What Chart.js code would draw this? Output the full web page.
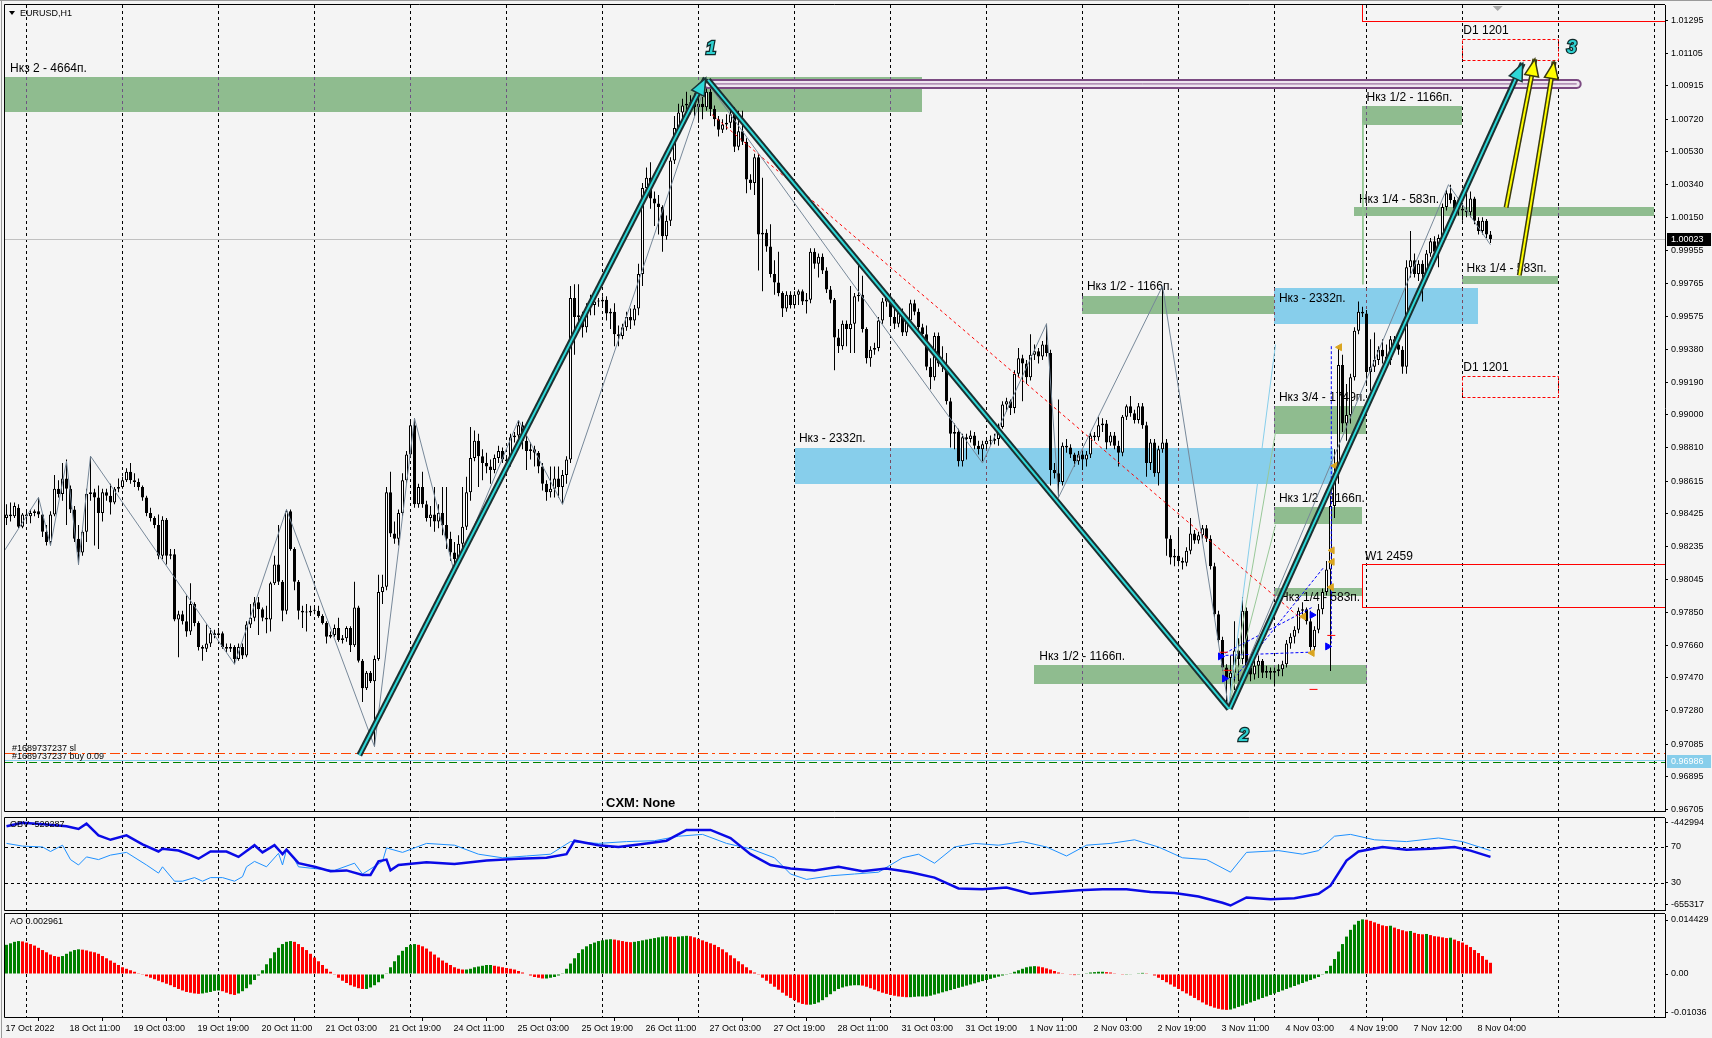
<!DOCTYPE html>
<html><head><meta charset="utf-8"><title>EURUSD,H1</title>
<script src="https://cdn.jsdelivr.net/npm/chart.js@4.4.1/dist/chart.umd.min.js"></script>
<style>
html,body{margin:0;padding:0;background:#F4F4F4;overflow:hidden}
#wrap{position:relative;width:1712px;height:1038px;background:#F4F4F4}
#wrap canvas{position:absolute;left:0}
</style></head><body>
<div id="wrap">
<canvas id="cMain" width="1712" height="816" style="top:0px"></canvas>
<canvas id="cObv" width="1712" height="96" style="top:816px"></canvas>
<canvas id="cAo" width="1712" height="126" style="top:912px"></canvas>
</div>
<script>
// ---------------- DATA ----------------
const opens = [
.9840,.9842,.9841,.9846,.9835,.9842,.9841,.9843,.9844,.9842,
.9832,.9826,.9842,.9857,.9854,.9863,.9857,.9845,.9828,.9820,
.9832,.9854,.9855,.9852,.9843,.9855,.9853,.9849,.9857,.9858,
.9862,.9867,.9862,.9861,.9858,.9852,.9843,.9840,.9836,.9818,
.9839,.9818,.9819,.9781,.9784,.9780,.9774,.9790,.9779,.9765,
.9764,.9767,.9773,.9772,.9773,.9765,.9764,.9765,.9758,.9765,
.9760,.9778,.9782,.9791,.9787,.9782,.9781,.9802,.9813,.9803,
.9786,.9844,.9822,.9803,.9786,.9785,.9785,.9786,.9786,.9783,
.9779,.9771,.9772,.9776,.9769,.9770,.9776,.9766,.9788,.9757,
.9741,.9750,.9745,.9758,.9797,.9800,.9855,.9831,.9828,.9843,
.9862,.9877,.9894,.9848,.9858,.9848,.9840,.9842,.9838,.9843,
.9836,.9828,.9820,.9816,.9825,.9835,.9855,.9875,.9885,.9876,
.9872,.9870,.9868,.9875,.9879,.9874,.9873,.9887,.9888,.9894,
.9885,.9879,.9880,.9878,.9870,.9860,.9855,.9857,.9863,.9858,
.9865,.9874,.9968,.9957,.9958,.9951,.9963,.9964,.9966,.9966,
.9967,.9959,.9960,.9947,.9946,.9951,.9957,.9955,.9962,.9982,
1.0032,1.0038,1.0026,1.0023,1.0021,1.0004,1.0013,1.0048,1.0067,1.0076,
1.0080,1.0081,1.0082,1.0079,1.0081,1.0079,1.0088,1.0078,1.0072,1.0066,
1.0069,1.0070,1.0075,1.0056,1.0065,1.0059,1.0037,1.0035,1.0050,1.0005,
1.0006,.9998,.9982,.9977,.9971,.9962,.9970,.9964,.9970,.9972,
.9966,.9967,.9995,.9988,.9992,.9984,.9973,.9967,.9945,.9940,
.9953,.9950,.9953,.9969,.9970,.9950,.9933,.9938,.9939,.9955,
.9966,.9968,.9957,.9953,.9960,.9948,.9955,.9965,.9960,.9951,
.9947,.9928,.9922,.9946,.9930,.9928,.9908,.9889,.9890,.9873,
.9887,.9886,.9888,.9882,.9880,.9883,.9885,.9885,.9886,.9893,
.9906,.9908,.9904,.9924,.9933,.9930,.9922,.9935,.9937,.9934,
.9941,.9936,.9868,.9866,.9861,.9882,.9881,.9877,.9873,.9877,
.9874,.9877,.9888,.9887,.9894,.9895,.9884,.9888,.9882,.9878,
.9899,.9905,.9901,.9897,.9905,.9894,.9872,.9884,.9866,.9880,
.9884,.9828,.9817,.9818,.9815,.9814,.9821,.9831,.9827,.9830,
.9834,.9828,.9812,.9784,.9769,.9753,.9747,.9750,.9763,.9758,
.9786,.9753,.9749,.9754,.9757,.9750,.9751,.9750,.9751,.9752,
.9755,.9767,.9771,.9775,.9786,.9787,.9780,.9765,.9775,.9787,
.9797,.9810,.9847,.9866,.9929,.9895,.9900,.9922,.9949,.9960,
.9959,.9925,.9928,.9932,.9938,.9934,.9932,.9944,.9941,.9938,
.9928,.9986,.9990,.9982,.9988,.9982,.9994,1.0001,.9995,1.0003,
1.0021,1.0029,1.0025,1.0020,1.0020,1.0019,1.0018,1.0026,1.0013,1.0007,
1.0013,1.0005];
const highs = [
.9848,.9849,.9849,.9848,.9843,.9844,.9845,.9845,.9852,.9843,
.9836,.9844,.9865,.9862,.9872,.9874,.9859,.9847,.9836,.9833,
.9857,.9876,.9857,.9859,.9857,.9857,.9860,.9858,.9863,.9864,
.9869,.9872,.9866,.9863,.9859,.9853,.9846,.9841,.9842,.9841,
.9840,.9822,.9822,.9786,.9786,.9795,.9802,.9791,.9780,.9766,
.9778,.9776,.9775,.9776,.9774,.9767,.9767,.9766,.9767,.9767,
.9780,.9790,.9794,.9794,.9788,.9789,.9803,.9818,.9836,.9804,
.9845,.9845,.9823,.9804,.9789,.9790,.9789,.9788,.9789,.9784,
.9780,.9774,.9778,.9782,.9772,.9777,.9777,.9803,.9789,.9758,
.9751,.9751,.9760,.9807,.9807,.9858,.9867,.9838,.9845,.9866,
.9879,.9896,.9898,.9860,.9867,.9850,.9847,.9858,.9848,.9858,
.9858,.9832,.9826,.9830,.9858,.9864,.9893,.9891,.9889,.9880,
.9878,.9874,.9877,.9882,.9881,.9876,.9889,.9890,.9897,.9896,
.9888,.9884,.9882,.9879,.9872,.9862,.9870,.9870,.9870,.9868,
.9876,.9975,.9976,.9976,.9960,.9965,.9970,.9968,.9968,.9969,
.9969,.9962,.9965,.9952,.9953,.9960,.9962,.9964,.9988,1.0035,
1.0044,1.0047,1.0030,1.0028,1.0022,1.0016,1.0050,1.0074,1.0081,1.0084,
1.0088,1.0086,1.0087,1.0087,1.0085,1.0094,1.0090,1.0080,1.0074,1.0072,
1.0075,1.0078,1.0079,1.0077,1.0077,1.0061,1.0040,1.0052,1.0052,1.0038,
1.0008,1.0011,.9990,.9995,.9972,.9972,.9972,.9972,.9973,.9973,
.9971,.9997,.9997,.9994,.9994,.9986,.9975,.9968,.9950,.9955,
.9955,.9975,.9971,.9989,.9981,.9951,.9940,.9942,.9957,.9968,
.9970,.9970,.9967,.9962,.9962,.9957,.9967,.9967,.9962,.9953,
.9952,.9933,.9948,.9948,.9940,.9936,.9910,.9895,.9892,.9889,
.9889,.9891,.9890,.9885,.9885,.9887,.9888,.9889,.9895,.9908,
.9910,.9909,.9926,.9939,.9935,.9932,.9947,.9941,.9939,.9943,
.9953,.9938,.9872,.9909,.9884,.9886,.9883,.9878,.9879,.9879,
.9879,.9890,.9890,.9899,.9898,.9897,.9890,.9890,.9885,.9900,
.9906,.9911,.9903,.9907,.9907,.9896,.9886,.9886,.9882,.9975,
.9886,.9830,.9822,.9833,.9817,.9823,.9840,.9833,.9832,.9836,
.9836,.9830,.9814,.9786,.9771,.9755,.9760,.9780,.9770,.9794,
.9788,.9756,.9757,.9760,.9758,.9754,.9753,.9753,.9755,.9757,
.9769,.9773,.9777,.9788,.9791,.9788,.9786,.9777,.9790,.9799,
.9815,.9853,.9880,.9940,.9935,.9918,.9924,.9951,.9966,.9963,
.9961,.9944,.9948,.9940,.9944,.9941,.9946,.9946,.9944,.9940,
.9990,1.0007,.9994,.9990,.9990,.9996,1.0003,1.0004,1.0005,1.0023,
1.0031,1.0034,1.0027,1.0023,1.0022,1.0029,1.0030,1.0027,1.0015,1.0015,
1.0014,1.0007];
const lows = [
.9836,.9838,.9840,.9834,.9834,.9838,.9837,.9841,.9840,.9829,
.9824,.9824,.9841,.9852,.9850,.9836,.9843,.9826,.9813,.9818,
.9826,.9850,.9824,.9822,.9838,.9850,.9842,.9848,.9855,.9857,
.9861,.9860,.9858,.9856,.9850,.9841,.9838,.9834,.9816,.9816,
.9813,.9816,.9780,.9759,.9778,.9771,.9772,.9777,.9763,.9757,
.9762,.9765,.9770,.9770,.9764,.9762,.9762,.9755,.9757,.9758,
.9759,.9776,.9780,.9772,.9780,.9773,.9774,.9801,.9801,.9780,
.9784,.9821,.9798,.9781,.9776,.9774,.9783,.9784,.9782,.9778,
.9767,.9770,.9771,.9768,.9767,.9768,.9762,.9765,.9756,.9733,
.9740,.9744,.9707,.9757,.9790,.9798,.9829,.9825,.9824,.9841,
.9860,.9875,.9846,.9846,.9846,.9838,.9835,.9832,.9834,.9830,
.9822,.9815,.9808,.9812,.9822,.9833,.9850,.9873,.9858,.9862,
.9866,.9860,.9866,.9872,.9872,.9870,.9870,.9884,.9884,.9880,
.9868,.9874,.9870,.9866,.9856,.9850,.9852,.9852,.9852,.9848,
.9860,.9872,.9935,.9950,.9945,.9948,.9958,.9958,.9963,.9964,
.9955,.9950,.9940,.9940,.9944,.9949,.9950,.9952,.9958,.9975,
1.0028,1.0020,1.0010,1.0005,.9995,1.0002,1.0010,1.0046,1.0064,1.0072,
1.0076,1.0075,1.0074,1.0070,1.0072,1.0077,1.0074,1.0068,1.0062,1.0064,
1.0066,1.0067,1.0053,1.0054,1.0057,1.0029,1.0031,1.0028,.9984,.9972,
.9995,.9980,.9970,.9969,.9957,.9960,.9962,.9962,.9964,.9964,
.9959,.9965,.9985,.9980,.9982,.9971,.9965,.9926,.9936,.9938,
.9940,.9936,.9936,.9966,.9948,.9930,.9928,.9935,.9937,.9953,
.9963,.9953,.9950,.9951,.9946,.9946,.9953,.9958,.9949,.9945,
.9926,.9915,.9920,.9928,.9925,.9906,.9881,.9880,.9870,.9870,
.9874,.9884,.9880,.9877,.9873,.9880,.9882,.9883,.9882,.9892,
.9902,.9900,.9901,.9922,.9908,.9918,.9920,.9932,.9930,.9932,
.9934,.9859,.9863,.9852,.9859,.9878,.9875,.9870,.9871,.9868,
.9870,.9875,.9885,.9885,.9890,.9880,.9882,.9880,.9870,.9876,
.9897,.9899,.9895,.9895,.9892,.9864,.9868,.9864,.9859,.9878,
.9818,.9813,.9812,.9812,.9810,.9812,.9819,.9825,.9825,.9828,
.9826,.9810,.9782,.9767,.9751,.9732,.9730,.9740,.9745,.9755,
.9750,.9745,.9746,.9747,.9747,.9747,.9746,.9742,.9748,.9748,
.9753,.9764,.9767,.9773,.9782,.9778,.9763,.9763,.9773,.9784,
.9795,.9751,.9840,.9860,.9890,.9885,.9895,.9920,.9947,.9957,
.9918,.9914,.9925,.9929,.9930,.9929,.9929,.9938,.9935,.9924,
.9924,.9980,.9980,.9978,.9966,.9980,.9992,.9990,.9986,.9998,
1.0019,1.0023,1.0018,1.0016,1.0013,1.0015,1.0015,1.0011,1.0005,1.0005,
1.0003,1.0000];
const closes = [
.9842,.9841,.9847,.9835,.9842,.9841,.9843,.9844,.9842,.9832,
.9826,.9842,.9857,.9854,.9863,.9857,.9845,.9828,.9820,.9832,
.9854,.9855,.9852,.9843,.9855,.9853,.9849,.9857,.9858,.9862,
.9867,.9862,.9861,.9858,.9852,.9843,.9840,.9836,.9818,.9839,
.9818,.9819,.9781,.9784,.9780,.9774,.9790,.9779,.9765,.9764,
.9767,.9773,.9772,.9773,.9765,.9764,.9765,.9758,.9765,.9760,
.9778,.9782,.9791,.9787,.9782,.9781,.9802,.9813,.9803,.9786,
.9844,.9822,.9803,.9786,.9785,.9785,.9786,.9786,.9783,.9779,
.9771,.9772,.9776,.9769,.9770,.9776,.9766,.9788,.9757,.9741,
.9750,.9745,.9758,.9797,.9800,.9855,.9831,.9828,.9843,.9862,
.9877,.9894,.9848,.9858,.9848,.9840,.9842,.9838,.9843,.9836,
.9828,.9820,.9816,.9825,.9835,.9855,.9875,.9885,.9876,.9872,
.9870,.9868,.9875,.9879,.9874,.9873,.9887,.9888,.9894,.9885,
.9879,.9880,.9878,.9870,.9860,.9855,.9857,.9863,.9858,.9865,
.9874,.9968,.9957,.9958,.9951,.9963,.9964,.9966,.9966,.9967,
.9959,.9960,.9947,.9946,.9951,.9957,.9955,.9962,.9982,1.0032,
1.0038,1.0026,1.0023,1.0021,1.0004,1.0013,1.0048,1.0067,1.0076,1.0080,
1.0081,1.0082,1.0079,1.0081,1.0079,1.0088,1.0078,1.0072,1.0066,1.0069,
1.0070,1.0075,1.0056,1.0065,1.0059,1.0037,1.0035,1.0050,1.0005,1.0006,
.9998,.9982,.9977,.9971,.9962,.9970,.9964,.9970,.9972,.9966,
.9967,.9995,.9988,.9992,.9984,.9973,.9967,.9945,.9940,.9953,
.9950,.9953,.9969,.9970,.9950,.9933,.9938,.9939,.9955,.9966,
.9968,.9957,.9953,.9960,.9948,.9955,.9965,.9960,.9951,.9947,
.9928,.9922,.9946,.9930,.9928,.9908,.9889,.9890,.9873,.9887,
.9886,.9888,.9882,.9880,.9883,.9885,.9885,.9886,.9893,.9906,
.9908,.9904,.9924,.9933,.9930,.9922,.9935,.9937,.9934,.9941,
.9936,.9868,.9866,.9861,.9882,.9881,.9877,.9873,.9877,.9874,
.9877,.9888,.9887,.9894,.9895,.9884,.9888,.9882,.9878,.9899,
.9905,.9901,.9897,.9905,.9894,.9872,.9884,.9866,.9880,.9884,
.9828,.9817,.9818,.9815,.9814,.9821,.9831,.9827,.9830,.9834,
.9828,.9812,.9784,.9769,.9753,.9747,.9750,.9763,.9758,.9786,
.9753,.9749,.9754,.9757,.9750,.9751,.9750,.9751,.9752,.9755,
.9767,.9771,.9775,.9786,.9787,.9780,.9765,.9775,.9787,.9797,
.9810,.9847,.9866,.9929,.9895,.9900,.9922,.9949,.9960,.9959,
.9925,.9928,.9932,.9938,.9934,.9932,.9944,.9941,.9938,.9928,
.9986,.9990,.9982,.9988,.9982,.9994,1.0001,.9995,1.0003,1.0021,
1.0029,1.0025,1.0020,1.0020,1.0019,1.0018,1.0026,1.0013,1.0007,1.0013,
1.0005,1.00023];

// Awesome Oscillator, in units of 0.0001
const aoVals = [
78,82,86,88,87,84,80,76,70,64,
58,52,48,46,48,54,60,64,66,65,
63,60,58,54,48,42,36,30,24,18,
14,10,6,2,-2,-6,-10,-14,-18,-22,
-26,-30,-35,-40,-44,-48,-50,-52,-53,-52,
-50,-48,-45,-44,-46,-50,-54,-56,-52,-46,
-38,-28,-16,-4,10,26,42,58,70,80,
86,88,86,80,72,64,54,44,34,24,
14,6,-2,-10,-18,-24,-30,-34,-38,-40,
-40,-36,-30,-22,-12,2,18,34,50,62,
72,78,80,78,74,68,60,52,44,36,
30,24,18,14,12,12,14,18,20,22,
24,24,22,20,18,16,14,12,8,4,
0,-4,-8,-10,-12,-12,-10,-8,-4,2,
14,28,42,56,66,74,80,84,88,90,
92,93,92,90,88,86,85,86,88,90,
92,94,96,98,100,101,100,99,100,101,
102,101,98,94,90,86,82,78,72,66,
58,50,42,34,26,18,10,4,-2,-10,
-18,-26,-34,-42,-50,-58,-64,-70,-76,-80,
-82,-82,-80,-76,-70,-62,-54,-46,-40,-36,
-33,-31,-30,-30,-31,-34,-38,-42,-46,-50,
-53,-56,-58,-60,-61,-62,-62,-61,-60,-60,
-60,-58,-55,-52,-49,-46,-43,-40,-37,-34,
-31,-28,-25,-22,-19,-16,-13,-10,-7,-4,
-2,2,6,10,14,18,20,21,20,18,
15,12,8,4,2,0,-2,-3,-2,0,
2,4,5,6,6,5,4,2,0,-2,
-2,-1,0,2,3,2,0,-4,-10,-16,
-22,-28,-34,-40,-46,-52,-58,-64,-70,-76,
-82,-86,-90,-93,-95,-96,-95,-92,-88,-84,
-80,-76,-72,-68,-64,-60,-56,-52,-48,-44,
-40,-36,-32,-28,-24,-20,-16,-12,-8,-2,
8,22,40,60,80,100,118,132,142,146,
145,142,138,134,130,128,129,124,120,117,
114,115,110,107,106,107,104,101,100,98,
96,97,92,88,84,78,72,64,56,48,
38,30];

// OBV window lines (bar index, window value)
const obvThickX = [0,4,10,15,18,20,23,26,30,34,38,39,43,46,48,51,55,58,62,64,67,69,70,73,77,81,85,89,91,93,95,96,98,105,112,120,128,135,140,142,148,153,160,165,170,176,181,186,191,196,202,208,214,220,226,232,238,244,250,256,262,268,274,280,286,292,298,304,306,310,316,322,328,331,335,338,344,350,356,362,366,371];
const obvThickV = [93,97,95,93,90,96,83,78,83,73,65,68,66,61,57,65,65,59,72,64,72,62,67,52,48,43,44,39,39,54,56,44,50,53,51,55,57,58,62,77,72,70,74,77,89,89,80,62,50,46,44,48,43,46,42,36,24,23,25,18,20,22,23,23,20,19,15,8,5,14,12,13,18,27,55,65,70,67,68,70,66,59];
const obvThinX = [0,4,9,11,14,16,18,20,23,26,30,35,38,39,42,44,47,49,51,54,57,59,60,62,65,68,69,70,72,73,77,82,87,89,94,95,99,105,112,118,124,130,136,141,148,155,162,168,174,180,186,192,196,200,206,212,218,224,228,232,237,242,248,254,260,265,270,276,282,288,294,300,306,310,318,324,328,332,336,342,350,358,364,371];
const obvThinV = [74,71,70,65,72,56,50,59,56,61,64,50,41,48,32,32,36,32,36,36,32,37,48,54,48,63,50,67,56,48,46,44,52,40,54,69,64,74,72,62,58,60,62,76,74,76,77,82,84,74,68,58,40,34,38,40,42,58,62,52,70,74,72,76,70,60,72,74,78,70,58,56,42,64,66,62,66,82,84,78,76,80,76,66];

// axes
const priceTicks = [1.01295,1.01105,1.00915,1.00720,1.00530,1.00340,1.00150,0.99955,0.99765,0.99575,0.99380,0.99190,0.99000,0.98810,0.98615,0.98425,0.98235,0.98045,0.97850,0.97660,0.97470,0.97280,0.97085,0.96895,0.96705];
const timeLabels = ["17 Oct 2022","18 Oct 11:00","19 Oct 03:00","19 Oct 19:00","20 Oct 11:00","21 Oct 03:00","21 Oct 19:00","24 Oct 11:00","25 Oct 03:00","25 Oct 19:00","26 Oct 11:00","27 Oct 03:00","27 Oct 19:00","28 Oct 11:00","31 Oct 03:00","31 Oct 19:00","1 Nov 11:00","2 Nov 03:00","2 Nov 19:00","3 Nov 11:00","4 Nov 03:00","4 Nov 19:00","7 Nov 12:00","8 Nov 04:00"];
const timeTickBars = [0,16,32,48,64,80,96,112,128,144,160,176,192,208,224,240,256,272,288,304,320,336,352,368];
const dayStartBars = [5,29,53,77,101,125,149,173,197,221,245,269,293,317,340,364,388,412];
const obvTickVals = [96.7,70,30,5.6];
const obvTickLabels = ["-442994","70","30","-655317"];
const obvLevels = [70,30];
const aoTickVals = [0.014429,0,-0.01036];
const aoTickLabels = ["0.014429","0.00","-0.01036"];
const lastPrice = 1.00023;
const buyPrice = 0.96986;

// drawn objects (bar index, price)
const zigX = [-3,8,11,15,18,21,57,70,92,102,112,128,139,175,244,260,263,289,305.5,360.5,371];
const zigY = [.9812,.9852,.9824,.9873,.9813,.9876,.9755,.9845,.9707,.9898,.9808,.9897,.9848,1.0094,.9872,.9953,.9852,.9975,.9730,1.0034,.9999];
const redDash = [[176.4,1.00747],[323.5,0.97817]];
const waveA = [[88.2,0.9702],[174.8,1.0096]];
const waveB = [[175.4,1.0095],[305.6,0.9729]];
const waveC = [[305.8,0.9729],[379.05,1.01046]];
const yellow1 = [[374.9,1.00207],[382.1,1.01071]];
const yellow2 = [[378.2,0.99812],[386.9,1.01056]];
const pipe = [[175.4,1.00926],[392.55,1.00926]];
const skyLine = [[305.5,0.9730],[317.25,0.9941]];
const greenLine1 = [[305.5,0.9730],[317.25,0.9890]];
const greenLine2 = [[305.5,0.9730],[317.25,0.9836]];
const greenVert = [[339.1,1.0070],[339.1,0.9976]];
const tradeLines = [
 [[331.2,0.9940],[331.2,0.9767]],
 [[303.5,0.9760],[326.4,0.9762]],
 [[303.5,0.9760],[326.4,0.9788]],
 [[306.7,0.9746],[329.2,0.9811]]
];
// trade history marks
const buyArrowX = [303.5,304.5,326.4,330.3];
const buyArrowY = [0.97595,0.97466,0.97836,0.97653];
const closeMarkX = [326.4,324.25,331.2,331.4,331.4,332.1,333.25];
const closeMarkY = [0.97615,0.97827,0.97998,0.98145,0.98212,0.98704,0.99394];
const slMarkX = [304.3,305.3,331.2,326.75];
const slMarkY = [0.97619,0.97514,0.97717,0.97403];
const zones = [
 {x0:-1,x1:228.75,top:1.00969,bot:1.00763,c:'g'},
 {x0:268.9,x1:316.95,top:0.99690,bot:0.99590,c:'g'},
 {x0:197.05,x1:331.6,top:0.98810,bot:0.98598,c:'b'},
 {x0:256.9,x1:340.05,top:0.97547,bot:0.97435,c:'g'},
 {x0:316.95,x1:367.8,top:0.99736,bot:0.99528,c:'b'},
 {x0:316.95,x1:339.9,top:0.99051,bot:0.98887,c:'g'},
 {x0:316.95,x1:338.8,top:0.98463,bot:0.98363,c:'g'},
 {x0:316.95,x1:338.8,top:0.97993,bot:0.97944,c:'g'},
 {x0:338.9,x1:363.9,top:1.00795,bot:1.00686,c:'g'},
 {x0:336.9,x1:411.9,top:1.00212,bot:1.00160,c:'g'},
 {x0:363.9,x1:387.95,top:0.99811,bot:0.99759,c:'g'}
];
const zoneLabels = [
 {t:'Нкз 2 - 4664п.',x:0.9,y:1.00998},
 {t:'Нкз 1/2 - 1166п.',x:270.1,y:0.99727},
 {t:'Нкз - 2332п.',x:198.1,y:0.98842},
 {t:'Нкз 1/2 - 1166п.',x:258.2,y:0.97576},
 {t:'Нкз - 2332п.',x:318.1,y:0.99660},
 {t:'Нкз 3/4 - 1749п.',x:318.1,y:0.99080},
 {t:'Нкз 1/2 - 1166п.',x:318.1,y:0.98494},
 {t:'Нкз 1/4 - 583п.',x:318.4,y:0.97916},
 {t:'Нкз 1/2 - 1166п.',x:340,y:1.00826},
 {t:'Нкз 1/4 - 583п.',x:338.1,y:1.00236},
 {t:'Нкз 1/4 - 583п.',x:365,y:0.99831},
 {t:'D1 1201',x:364.2,y:1.01219},
 {t:'D1 1201',x:364.2,y:0.99257},
 {t:'W1 2459',x:339.6,y:0.98153}
];
const redBoxes = [
 {x0:338.9,x1:430,top:1.0160,bot:1.01295,dash:false},
 {x0:338.9,x1:430,top:0.98132,bot:0.97880,dash:false},
 {x0:363.9,x1:387.95,top:1.01185,bot:1.01066,dash:true},
 {x0:363.9,x1:387.95,top:0.99224,bot:0.99105,dash:true}
];
const hLines = [
 {y:1.00023,color:'#C0C0C0',dash:[]},
 {y:0.97034,color:'#FF4500',dash:[10,4,3,4]},
 {y:0.96990,color:'#87CEEB',dash:[]},
 {y:0.96978,color:'#008000',dash:[8,4]}
];
const waveLabels = [{t:'1',x:176.1,y:1.01131},{t:'2',x:309.3,y:0.97129},{t:'3',x:391.3,y:1.01133}];
const shiftMarkBar = 372.8;

// ---------------- RENDER ----------------
const FONT = "'Liberation Sans', Arial, sans-serif";
Chart.defaults.font.family = FONT;
const X_MIN = -0.375, X_MAX = 414.625;
const GREEN = '#8FBC8F', BLUE = '#87CEEB';

function yAxis(min, max, vals, fmt) {
  return {
    position:'right', min:min, max:max,
    afterBuildTicks: s => { s.ticks = vals.map(v => ({value:v})); },
    afterFit: s => { s.width = 47; s.paddingTop = 0; s.paddingBottom = 0; },
    ticks: { autoSkip:false, font:{family:FONT, size:9}, color:'#000', padding:3, callback:(v,i) => fmt(v,i) },
    grid: { drawOnChartArea:false, drawTicks:true, tickLength:3, color:'#000' },
    border: { display:true, color:'#000', width:1 }
  };
}
function hiddenX() { return {type:'linear', min:X_MIN, max:X_MAX, display:false, offset:false}; }
function pts(arr) { return arr.map(p => ({x:p[0], y:p[1]})); }
function lineDS(p, color, width, extra) {
  return Object.assign({type:'line', data:pts(p), borderColor:color, borderWidth:width, pointRadius:0, tension:0, fill:false, order:2}, extra || {});
}
function markDS(xs, ys, style, rot, color, r, order) {
  return {type:'line', showLine:false, data:xs.map((x, i) => ({x:x, y:ys[i]})), pointStyle:style, rotation:rot,
    pointRadius:r, pointBackgroundColor:color, pointBorderColor:color, pointBorderWidth:1, order:order};
}
function vGrid(ctx, X, y0, y1, color) {
  ctx.save(); ctx.strokeStyle = color; ctx.lineWidth = 1; ctx.setLineDash([3,3]);
  dayStartBars.forEach(v => {
    if (v < X.min || v > X.max) return;
    const px = Math.floor(X.getPixelForValue(v)) + 0.5;
    ctx.beginPath(); ctx.moveTo(px, y0); ctx.lineTo(px, y1); ctx.stroke();
  });
  ctx.restore();
}
function frame(ctx, a) {
  ctx.save(); ctx.strokeStyle = '#000'; ctx.lineWidth = 1; ctx.setLineDash([]);
  ctx.beginPath();
  ctx.moveTo(a.left - 0.5, a.bottom + 0.5); ctx.lineTo(a.left - 0.5, a.top - 0.5); ctx.lineTo(a.right, a.top - 0.5);
  ctx.moveTo(a.left - 0.5, a.bottom + 0.5); ctx.lineTo(a.right, a.bottom + 0.5);
  ctx.stroke();
  ctx.strokeStyle = '#9A9A9A';
  ctx.beginPath(); ctx.moveTo(1.5, 0); ctx.lineTo(1.5, ctx.canvas.height); ctx.stroke();
  ctx.restore();
}
function clipArea(ctx, a) { ctx.beginPath(); ctx.rect(a.left, a.top, a.right - a.left, a.bottom - a.top); ctx.clip(); }
function arrowHead(ctx, X, Y, seg, fill, stroke) {
  const x0 = X.getPixelForValue(seg[0][0]), y0 = Y.getPixelForValue(seg[0][1]);
  const x1 = X.getPixelForValue(seg[1][0]), y1 = Y.getPixelForValue(seg[1][1]);
  const dx = x1 - x0, dy = y1 - y0, L = Math.hypot(dx, dy), ux = dx / L, uy = dy / L;
  const len = 17, hw = 7;
  const bx = x1 - ux * len, by = y1 - uy * len;
  ctx.beginPath(); ctx.moveTo(x1, y1); ctx.lineTo(bx - uy * hw, by + ux * hw); ctx.lineTo(bx + uy * hw, by - ux * hw); ctx.closePath();
  ctx.fillStyle = fill; ctx.fill(); ctx.lineWidth = 1.5; ctx.strokeStyle = stroke; ctx.stroke();
}

const mainDecor = {
  id:'mainDecor',
  beforeDatasetsDraw(chart) {
    const ctx = chart.ctx, a = chart.chartArea, X = chart.scales.x, Y = chart.scales.y;
    ctx.save(); clipArea(ctx, a);
    vGrid(ctx, X, a.top, a.bottom, '#000');
    zones.forEach(z => {
      const x0 = Math.round(X.getPixelForValue(z.x0)), x1 = Math.round(X.getPixelForValue(z.x1));
      const y0 = Math.round(Y.getPixelForValue(z.top)), y1 = Math.round(Y.getPixelForValue(z.bot));
      ctx.fillStyle = z.c === 'g' ? GREEN : BLUE;
      ctx.fillRect(x0, y0, x1 - x0, y1 - y0);
      ctx.save(); ctx.beginPath(); ctx.rect(x0, y0, x1 - x0, y1 - y0); ctx.clip();
      vGrid(ctx, X, y0, y1, z.c === 'g' ? '#6E5482' : '#7A4A60');
      ctx.restore();
    });
    hLines.forEach(h => {
      const yy = Math.round(Y.getPixelForValue(h.y)) + 0.5;
      ctx.setLineDash(h.dash); ctx.strokeStyle = h.color; ctx.lineWidth = 1;
      ctx.beginPath(); ctx.moveTo(a.left, yy); ctx.lineTo(a.right, yy); ctx.stroke();
    });
    redBoxes.forEach(r => {
      const x0 = Math.round(X.getPixelForValue(r.x0)) + 0.5, x1 = Math.round(X.getPixelForValue(r.x1)) + 0.5;
      const y0 = Math.round(Y.getPixelForValue(r.top)) + 0.5, y1 = Math.round(Y.getPixelForValue(r.bot)) + 0.5;
      ctx.setLineDash(r.dash ? [3,2] : []); ctx.strokeStyle = '#FF0000'; ctx.lineWidth = 1;
      ctx.strokeRect(x0, y0, x1 - x0, y1 - y0);
    });
    ctx.setLineDash([]);
    ctx.font = '12px ' + FONT; ctx.fillStyle = '#000'; ctx.textBaseline = 'alphabetic'; ctx.textAlign = 'left';
    zoneLabels.forEach(l => ctx.fillText(l.t, X.getPixelForValue(l.x), Y.getPixelForValue(l.y)));
    ctx.font = '9px ' + FONT;
    ctx.fillText('#1689737237 sl', a.left + 7, Y.getPixelForValue(hLines[1].y) - 1.5);
    ctx.fillText('#1689737237 buy 0.09', a.left + 7, Y.getPixelForValue(hLines[2].y) - 1);
    ctx.restore();
  },
  afterDatasetsDraw(chart) {
    const ctx = chart.ctx, a = chart.chartArea, X = chart.scales.x, Y = chart.scales.y;
    ctx.save(); clipArea(ctx, a);
    arrowHead(ctx, X, Y, waveA, '#2ED8D8', '#1B3535');
    arrowHead(ctx, X, Y, waveC, '#2ED8D8', '#1B3535');
    arrowHead(ctx, X, Y, yellow1, '#FFFF00', '#3A3A10');
    arrowHead(ctx, X, Y, yellow2, '#FFFF00', '#3A3A10');
    ctx.font = 'italic bold 18px ' + FONT; ctx.textAlign = 'center'; ctx.textBaseline = 'middle';
    waveLabels.forEach(w => {
      const x = X.getPixelForValue(w.x), y = Y.getPixelForValue(w.y);
      ctx.lineWidth = 2.5; ctx.strokeStyle = '#0E2A2A'; ctx.strokeText(w.t, x, y);
      ctx.fillStyle = '#2ED0D0'; ctx.fillText(w.t, x, y);
    });
    ctx.restore();
  },
  afterDraw(chart) {
    const ctx = chart.ctx, a = chart.chartArea, X = chart.scales.x, Y = chart.scales.y;
    frame(ctx, a);
    ctx.save();
    ctx.strokeStyle = '#9A9A9A'; ctx.beginPath(); ctx.moveTo(0, 0.5); ctx.lineTo(1712, 0.5); ctx.stroke();
    const boxes = [{v:lastPrice, bg:'#000000'}, {v:buyPrice, bg:'#87CEEB'}];
    ctx.font = '9px ' + FONT; ctx.textBaseline = 'middle'; ctx.textAlign = 'left';
    boxes.forEach(b => {
      const y = Math.round(Y.getPixelForValue(b.v));
      ctx.fillStyle = b.bg; ctx.fillRect(a.right + 2, y - 6, 44, 13);
      ctx.fillStyle = '#FFFFFF'; ctx.fillText(b.v.toFixed(5), a.right + 6, y + 0.5);
    });
    ctx.fillStyle = '#000';
    ctx.beginPath(); ctx.moveTo(a.left + 4, a.top + 6); ctx.lineTo(a.left + 10, a.top + 6); ctx.lineTo(a.left + 7, a.top + 10); ctx.closePath(); ctx.fill();
    ctx.fillText('EURUSD,H1', a.left + 15, a.top + 8.5);
    ctx.font = 'bold 13px ' + FONT; ctx.textBaseline = 'alphabetic';
    ctx.fillText('CXM: None', a.left + 601, a.bottom - 4);
    const sx = X.getPixelForValue(shiftMarkBar);
    ctx.fillStyle = '#A8A8A8';
    ctx.beginPath(); ctx.moveTo(sx - 5, a.top + 1); ctx.lineTo(sx + 5, a.top + 1); ctx.lineTo(sx, a.top + 6); ctx.closePath(); ctx.fill();
    ctx.restore();
  }
};

const idx = closes.map((_, i) => i);
const bodyData = idx.map(i => ({x:i, y:[Math.min(opens[i], closes[i]), Math.max(opens[i], closes[i])]}));
const wickData = idx.map(i => ({x:i, y:[lows[i], highs[i]]}));

const mainDatasets = [
  {type:'bar', data:bodyData, barThickness:3, grouped:false, borderWidth:1, borderColor:'#000', borderSkipped:false,
   inflateAmount:0, minBarLength:1, order:5,
   backgroundColor: c => closes[c.dataIndex] >= opens[c.dataIndex] ? '#FFFFFF' : '#000000'},
  {type:'bar', data:wickData, barThickness:1, grouped:false, borderWidth:0, inflateAmount:0, backgroundColor:'#000', order:6},
  lineDS(zigX.map((v, i) => [v, zigY[i]]), '#778899', 1, {order:4}),
  lineDS(redDash, '#FF0000', 1, {borderDash:[3,3], order:4}),
  lineDS(skyLine, '#87CEEB', 1, {order:4}),
  lineDS(greenLine1, '#98C898', 1, {order:4}),
  lineDS(greenLine2, '#98C898', 1, {order:4}),
  lineDS(greenVert, '#90C890', 1, {order:4})
].concat(tradeLines.map(t => lineDS(t, '#0000FF', 1, {borderDash:[3,2], order:4}))).concat([
  markDS(buyArrowX, buyArrowY, 'triangle', 90, '#0000FF', 4, 3.9),
  markDS(closeMarkX, closeMarkY, 'triangle', -90, '#DAA520', 4, 3.9),
  markDS(slMarkX, slMarkY, 'line', 0, '#FF0000', 4, 3.9),
  lineDS(pipe, '#7B4A82', 10, {borderCapStyle:'round', order:3.3}),
  lineDS(pipe, '#EFE6F0', 6, {borderCapStyle:'round', order:3.2}),
  lineDS(pipe, '#8A5A90', 1, {order:3.1}),
  lineDS(waveA, '#1B3030', 6, {order:2.2}), lineDS(waveA, '#2ED8D8', 2, {order:2.1}),
  lineDS(waveB, '#1B3030', 6, {order:2.2}), lineDS(waveB, '#2ED8D8', 2, {order:2.1}),
  lineDS(waveC, '#1B3030', 6, {order:2.2}), lineDS(waveC, '#2ED8D8', 2, {order:2.1}),
  lineDS(yellow1, '#3A3A10', 5, {order:1.2}), lineDS(yellow1, '#FFFF00', 2, {order:1.1}),
  lineDS(yellow2, '#3A3A10', 5, {order:1.2}), lineDS(yellow2, '#FFFF00', 2, {order:1.1})
]);

const common = {responsive:false, animation:false, devicePixelRatio:1, events:[],
  plugins:{legend:{display:false}, tooltip:{enabled:false}}};

new Chart(document.getElementById('cMain'), {
  type:'bar',
  data:{datasets:mainDatasets},
  options:Object.assign({}, common, {
    layout:{padding:{left:5, top:3, bottom:2, right:0}},
    scales:{x:hiddenX(), y:yAxis(0.966954, 1.013853, priceTicks, v => v.toFixed(5))}
  }),
  plugins:[mainDecor]
});

// OBV window
const obvDecor = {
  id:'obvDecor',
  beforeDatasetsDraw(chart) {
    const ctx = chart.ctx, a = chart.chartArea, X = chart.scales.x, Y = chart.scales.y;
    ctx.save(); clipArea(ctx, a);
    vGrid(ctx, X, a.top, a.bottom, '#000');
    ctx.strokeStyle = '#000'; ctx.setLineDash([3,3]); ctx.lineWidth = 1;
    obvLevels.forEach(l => {
      const y = Math.round(Y.getPixelForValue(l)) + 0.5;
      ctx.beginPath(); ctx.moveTo(a.left, y); ctx.lineTo(a.right, y); ctx.stroke();
    });
    ctx.restore();
  },
  afterDraw(chart) {
    const ctx = chart.ctx, a = chart.chartArea;
    frame(ctx, a);
    ctx.save(); ctx.font = '9px ' + FONT; ctx.fillStyle = '#000'; ctx.textBaseline = 'middle';
    ctx.fillText('OBV -529287', a.left + 5, a.top + 7);
    ctx.restore();
  }
};
new Chart(document.getElementById('cObv'), {
  type:'line',
  data:{datasets:[
    {data:obvThickX.map((x, i) => ({x:x, y:obvThickV[i]})), borderColor:'#0A0AE6', borderWidth:2.5, pointRadius:0, tension:0, order:1},
    {data:obvThinX.map((x, i) => ({x:x, y:obvThinV[i]})), borderColor:'#1E90FF', borderWidth:1, pointRadius:0, tension:0, order:2}
  ]},
  options:Object.assign({}, common, {
    layout:{padding:{left:5, top:2, bottom:2, right:0}},
    scales:{x:hiddenX(), y:yAxis(0, 102.22, obvTickVals, (v, i) => obvTickLabels[i])}
  }),
  plugins:[obvDecor]
});

// AO window
const aoDecor = {
  id:'aoDecor',
  beforeDatasetsDraw(chart) {
    const ctx = chart.ctx, a = chart.chartArea, X = chart.scales.x;
    ctx.save(); clipArea(ctx, a);
    vGrid(ctx, X, a.top, a.bottom, '#000');
    ctx.restore();
  },
  afterDraw(chart) {
    const ctx = chart.ctx, a = chart.chartArea;
    frame(ctx, a);
    ctx.save(); ctx.font = '9px ' + FONT; ctx.fillStyle = '#000'; ctx.textBaseline = 'middle';
    ctx.fillText('AO 0.002961', a.left + 5, a.top + 8);
    ctx.restore();
  }
};
new Chart(document.getElementById('cAo'), {
  type:'bar',
  data:{datasets:[{
    data:aoVals.map((v, i) => ({x:i, y:v / 10000})),
    barThickness:3, inflateAmount:0, borderWidth:0,
    backgroundColor: c => (c.dataIndex > 0 && aoVals[c.dataIndex] < aoVals[c.dataIndex - 1]) ? '#FF0000' : '#008000'
  }]},
  options:Object.assign({}, common, {
    layout:{padding:{left:5, top:2, bottom:0, right:0}},
    scales:{
      x:{type:'linear', min:X_MIN, max:X_MAX, offset:false, position:'bottom',
         afterBuildTicks: s => { s.ticks = timeTickBars.map(v => ({value:v})); },
         afterFit: s => { s.height = 21; s.paddingLeft = 0; s.paddingRight = 0; },
         ticks:{autoSkip:false, maxRotation:0, minRotation:0, align:'start', labelOffset:-1, padding:2,
                font:{family:FONT, size:9}, color:'#000', callback:(v, i) => timeLabels[i]},
         grid:{drawOnChartArea:false, drawTicks:true, tickLength:4, color:'#000'},
         border:{display:true, color:'#000'}},
      y:yAxis(-0.011491, 0.016034, aoTickVals, (v, i) => aoTickLabels[i])
    }
  }),
  plugins:[aoDecor]
});
</script></body></html>
